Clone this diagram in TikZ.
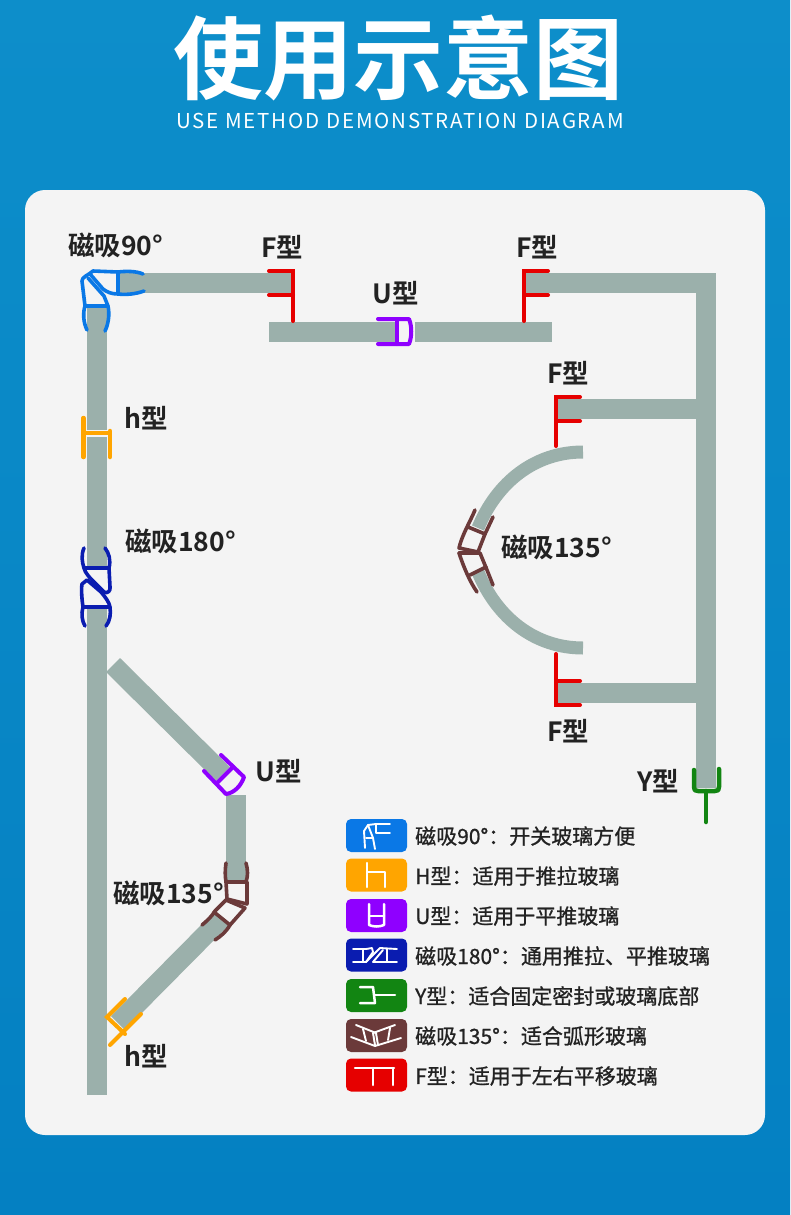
\documentclass[tikz,border=0pt]{standalone}
\usepackage{fontspec}
\setmainfont{Noto Sans CJK SC}
\newfontfamily\boldcjk[BoldFont={Noto Sans CJK SC Bold}]{Noto Sans CJK SC Bold}
\newfontfamily\legcjk[FakeBold=0.9]{Noto Sans CJK SC}
\newfontfamily\subfont[LetterSpace=9]{Noto Sans CJK SC}
\definecolor{glass}{HTML}{9BB0AB}
\definecolor{panel}{HTML}{F4F4F4}
\definecolor{bgtop}{HTML}{0D8ECA}
\definecolor{bgbot}{HTML}{0480C2}
\definecolor{cblue}{HTML}{0A78E6}
\definecolor{corange}{HTML}{FFA500}
\definecolor{cpurple}{HTML}{8F00FF}
\definecolor{cnavy}{HTML}{0A1CB0}
\definecolor{cgreen}{HTML}{128512}
\definecolor{cbrown}{HTML}{6B3A3A}
\definecolor{cred}{HTML}{E60000}
\definecolor{ink}{HTML}{222222}
\tikzset{
  glasspart/.style={fill=glass,draw=none},
  arcglass/.style={draw=glass,line width=13pt},
  clip180/.style={draw=cnavy,line width=3.6pt,line cap=round,line join=round},
  clip90/.style={draw=cblue,line width=3.6pt,line cap=round,line join=round},
  clip135/.style={draw=cbrown,line width=3.6pt,line cap=round,line join=round},
  cliph/.style={draw=corange,line width=4.5pt,line cap=round,line join=miter},
  clipu/.style={draw=cpurple,line width=4pt,line cap=round,line join=round},
  clipf/.style={draw=cred,line width=4pt,line cap=round,line join=miter},
  clipy/.style={draw=cgreen,line width=4.5pt,line cap=round,line join=round},
  lab/.style={font=\boldcjk\fontsize{26.5}{26.5}\selectfont,text=ink,inner sep=0pt},
  legtxt/.style={font=\legcjk\fontsize{21}{21}\selectfont,text=ink,inner sep=0pt,anchor=west},
  swatch/.style={rounded corners=5pt,draw=none,minimum width=61pt,minimum height=33pt,inner sep=0pt},
  icon/.style={draw=white,line width=2.5pt,line cap=round,line join=round},
  iconthin/.style={draw=white,line width=1.9pt,line cap=round,line join=round},
}
\begin{document}
\begin{tikzpicture}[x=1pt,y=-1pt]
\useasboundingbox (0,0) rectangle (790,1215);
\shade[top color=bgtop,bottom color=bgbot] (0,0) rectangle (790,1215);
\fill[panel,rounded corners=20pt] (25,190) rectangle (765,1135);
% title
\node[inner sep=0pt,text=white] (title) at (398,58) {\boldcjk\fontsize{90}{90}\selectfont 使用示意图};
\node[inner sep=0pt,text=white] (subtitle) at (400,121) {\subfont\fontsize{20.5}{21}\selectfont USE METHOD DEMONSTRATION DIAGRAM};
% glass
\fill[glasspart] (87,308) rectangle (107,430);
\fill[glasspart] (87,437) rectangle (107,566);
\fill[glasspart] (87,608) rectangle (107,1095);
\fill[glasspart] (119,273) rectangle (293,293);
\fill[glasspart] (269,322) rectangle (397,342);
\fill[glasspart] (415,322) rectangle (552,342);
\fill[glasspart] (524,273) rectangle (716,293);
\fill[glasspart] (696,273) rectangle (716,788);
\fill[glasspart] (557,399) rectangle (696,419);
\fill[glasspart] (557,683) rectangle (696,703);
\fill[glasspart] (120,658) -- (230,767) -- (216,781) -- (106,672) -- cycle;
\fill[glasspart] (226,795) rectangle (246,880);
\fill[glasspart] (214,912) -- (229,925) -- (125,1030) -- (111,1016) -- cycle;
\draw[arcglass] (583,452) .. controls (535,452) and (497,482) .. (478,528);
\draw[arcglass] (583,648) .. controls (535,648) and (497,618) .. (478,572);
% F clips
\draw[clipf] (269,271) -- (293,271) -- (293,321);
\draw[clipf] (269,295) -- (293,295);
\draw[clipf] (548,271) -- (524,271) -- (524,321);
\draw[clipf] (548,295) -- (524,295);
\draw[clipf] (580,397) -- (556,397) -- (556,446);
\draw[clipf] (580,421) -- (556,421);
\draw[clipf] (556,654) -- (556,705) -- (580,705);
\draw[clipf] (556,681) -- (580,681);
% U clips
\draw[clipu] (378,319) -- (409,319) .. controls (412,326) and (412,337) .. (409,344) -- (378,344);
\draw[clipu] (397,319) -- (397,344);
\draw[clipu] (204,771) -- (226,794) .. controls (234,793) and (241,786) .. (244,777) -- (221,755);
\draw[clipu] (217,783) -- (233,767);
% h clips
\draw[cliph] (83.5,418) -- (83.5,457);
\draw[cliph,line cap=butt] (83.5,433) -- (110,433);
\draw[cliph] (110,431) -- (110,457);
\draw[cliph,line width=4pt] (125,999) -- (107,1017) -- (125,1034);
\draw[cliph,line width=4pt] (141,1014) -- (110,1045);
% Y clip
\draw[clipy] (694,770) -- (694,787) .. controls (694,790) and (695,791) .. (698,791) -- (715,791) .. controls (718,791) and (719,790) .. (719,787) -- (719,769);
\draw[clipy] (706,791) -- (706,822);
% magnet 90
\draw[clip90] (87,330) .. controls (83,322) and (83,312) .. (85,306) -- (108,306) .. controls (110,315) and (108,325) .. (105,331);
\draw[clip90] (85,306) -- (82,281) .. controls (82,277) and (87,276) .. (93,271) -- (118,272) .. controls (126,271) and (136,271) .. (143,274);
\draw[clip90] (118,272) -- (118,294) .. controls (126,295) and (136,294) .. (144,291);
\draw[clip90] (90,274) -- (103,289) .. controls (107,292) and (111,294) .. (118,294);
\draw[clip90] (88,278) -- (104,296) -- (108,306);
% magnet 180
\draw[clip180] (84,548) .. controls (81,555) and (82,562) .. (84,568) -- (109,568) .. controls (111,560) and (109,553) .. (105,548);
\draw[clip180] (84,568) .. controls (85,573) and (90,578) .. (96,584) -- (104,592) .. controls (107,594) and (111,591) .. (110,587) -- (109,568);
\draw[clip180] (87,580) -- (82,584) .. controls (81,590) and (82,600) .. (83,607) -- (110,607) .. controls (109,602) and (106,598) .. (101,592) -- (87,580);
\draw[clip180] (83,607) .. controls (81,614) and (82,621) .. (85,626);
\draw[clip180] (110,607) .. controls (111,614) and (110,621) .. (106,626);
% magnet 135, arc
\draw[clip135] (475,510) .. controls (470,522) and (462,535) .. (459,548) -- (478,552) -- (485,534) -- (493,517);
\draw[clip135] (468,527) -- (485,534);
\draw[clip135] (459,553) -- (480,553) -- (487,570) -- (493,585);
\draw[clip135] (459,553) .. controls (464,568) and (470,582) .. (477,592);
\draw[clip135] (470,575) -- (486,567);
% magnet 135, lower left
\draw[clip135] (226,863) .. controls (225,870) and (225,876) .. (226,882) -- (246,882) .. controls (248,876) and (248,870) .. (246,863);
\draw[clip135] (226,882) -- (227,899) -- (247,904) -- (247,882);
\draw[clip135] (202,925) .. controls (208,920) and (212,916) .. (215,911) -- (226,900) -- (245,908) -- (230,925) .. controls (226,932) and (221,936) .. (215,940);
\draw[clip135] (214,912) -- (230,925);
% labels
\node[lab,anchor=west] (l90) at (68,245) {磁吸90°};
\node[lab,anchor=west] (lf1) at (261,247) {F型};
\node[lab,anchor=west] (lf2) at (516,247) {F型};
\node[lab,anchor=west] (lu1) at (372,293) {U型};
\node[lab,anchor=west] (lf3) at (547,373) {F型};
\node[lab,anchor=west] (lh1) at (124,418) {h型};
\node[lab,anchor=west] (l180) at (125,541) {磁吸180°};
\node[lab,anchor=west] (l135a) at (501,547) {磁吸135°};
\node[lab,anchor=west] (lf4) at (547,731) {F型};
\node[lab,anchor=west] (ly) at (637,781) {Y型};
\node[lab,anchor=west] (lu2) at (255,771) {U型};
\node[lab,anchor=west] (l135b) at (113,893) {磁吸135°};
\node[lab,anchor=west] (lh2) at (124,1056) {h型};
% legend swatches
\node[swatch,fill=cblue] (s1) at (376.5,835.5) {};
\node[swatch,fill=corange] (s2) at (376.5,875) {};
\node[swatch,fill=cpurple] (s3) at (376.5,915.5) {};
\node[swatch,fill=cnavy] (s4) at (376.5,955) {};
\node[swatch,fill=cgreen] (s5) at (376.5,995.5) {};
\node[swatch,fill=cbrown] (s6) at (376.5,1035.5) {};
\node[swatch,fill=cred] (s7) at (376.5,1075) {};
% legend icons
\draw[iconthin] (365,848) -- (364,831) -- (368,825) -- (376,824) -- (390,824);
\draw[iconthin] (366,838) -- (373,838) -- (375,849);
\draw[iconthin] (368,825) -- (373,838);
\draw[iconthin] (376,824) -- (376,833) -- (390,833);
\draw[icon] (367,863) -- (367,887);
\draw[icon] (367,872) -- (385,872) -- (385,887);
\draw[icon] (369,904) -- (369,925) .. controls (374,927) and (379,927) .. (384,925) -- (384,904);
\draw[icon] (369,916) -- (384,916);
\draw[iconthin] (353,949) -- (366,949);
\draw[iconthin] (353,962) -- (366,962) -- (380,948) -- (397,949);
\draw[iconthin] (363,949) -- (363,962);
\draw[iconthin] (366,949) -- (372,948) -- (373,952) -- (366,962);
\draw[iconthin] (373,962) -- (383,950);
\draw[iconthin] (373,962) -- (397,962);
\draw[iconthin] (387,949) -- (387,962);
\draw[icon] (360,987) -- (373,987) -- (375,1003) -- (360,1003);
\draw[icon] (375,995) -- (395,995);
\draw[iconthin] (351,1037) -- (375,1046) -- (401,1038);
\draw[iconthin] (356,1025) -- (376,1033) -- (378,1045);
\draw[iconthin] (395,1025) -- (373,1033) -- (375,1045);
\draw[iconthin] (363,1029) -- (366,1041);
\draw[iconthin] (390,1028) -- (388,1040);
\draw[icon] (355,1068) -- (394,1068);
\draw[icon] (373,1068) -- (373,1085);
\draw[icon] (393,1068) -- (393,1085);
% legend text
\node[legtxt] (t1) at (415,836) {磁吸90°：开关玻璃方便};
\node[legtxt] (t2) at (415,876) {H型：适用于推拉玻璃};
\node[legtxt] (t3) at (415,916) {U型：适用于平推玻璃};
\node[legtxt] (t4) at (415,956) {磁吸180°：通用推拉、平推玻璃};
\node[legtxt] (t5) at (415,996) {Y型：适合固定密封或玻璃底部};
\node[legtxt] (t6) at (415,1036) {磁吸135°：适合弧形玻璃};
\node[legtxt] (t7) at (415,1076) {F型：适用于左右平移玻璃};
\end{tikzpicture}
\end{document}
